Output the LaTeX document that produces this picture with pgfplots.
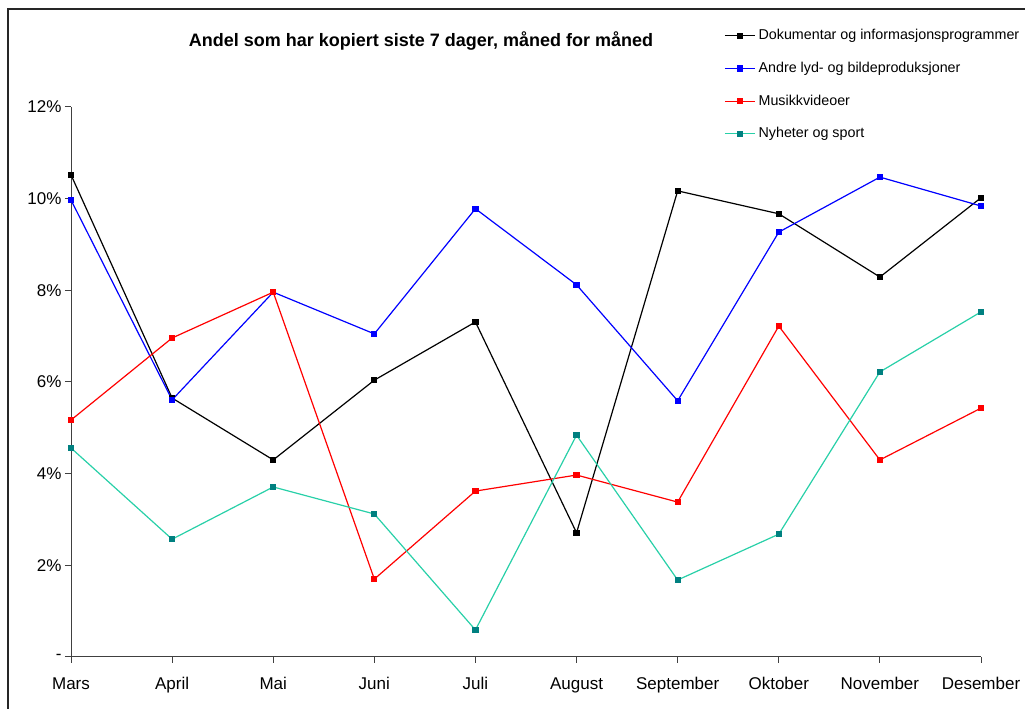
\documentclass[border=0pt]{standalone}
\usepackage{pgfplots}
\pgfplotsset{compat=1.18}
\usepackage{fontspec}
\setmainfont{Liberation Sans}
\definecolor{tealline}{RGB}{40,208,168}
\definecolor{tealmark}{RGB}{0,128,128}
\begin{document}
\begin{tikzpicture}[x=1pt,y=1pt]
\useasboundingbox (0,0) rectangle (1025,709);
\draw[line width=2pt,black!85] (8,0) -- (8,700) -- (1025,700);
\node[font=\fontsize{18}{20}\selectfont\bfseries] at (421,668) {Andel som har kopiert siste 7 dager, måned for måned};
\begin{axis}[
  at={(71pt,52pt)}, anchor=south west,
  scale only axis, width=910pt, height=550pt,
  xmin=0, xmax=9, ymin=0, ymax=12,
  axis x line=bottom, axis y line=left,
  axis line style={-, line width=1pt, black!75},
  xtick={0,...,9},
  xticklabels={Mars,April,Mai,Juni,Juli,August,September,Oktober,November,Desember},
  ytick={0,2,4,6,8,10,12},
  yticklabels={-,2\%,4\%,6\%,8\%,10\%,12\%},
  tick style={black!75, line width=1pt},
  major tick length=6pt,
  tick align=outside,
  ticklabel style={font=\fontsize{17}{20}\selectfont},
  xticklabel style={yshift=-11pt},
  clip=false,
  every axis plot/.append style={line width=1.2pt, mark=square*, mark size=2.5pt},
  legend style={at={(0.7145,1.148)}, anchor=north west, draw=none, fill=none,
    font=\fontsize{14.3}{16}\selectfont, row sep=16.7pt,
    nodes={inner sep=1pt, text height=11pt, text depth=3pt}},
  legend cell align=left,
  legend image code/.code={\draw[#1, mark repeat=2, mark phase=2] plot coordinates {(0pt,0pt) (15pt,0pt) (30pt,0pt)}; \path (32pt,0pt);},
]
\addplot[color=black, mark options={fill=black}] coordinates {
(0,10.52) (1,5.65) (2,4.30) (3,6.04) (4,7.31) (5,2.71) (6,10.17) (7,9.67) (8,8.29) (9,10.02)};
\addlegendentry{Dokumentar og informasjonsprogrammer}
\addplot[color=blue, mark options={fill=blue}] coordinates {
(0,9.97) (1,5.61) (2,7.96) (3,7.05) (4,9.78) (5,8.12) (6,5.59) (7,9.27) (8,10.47) (9,9.84)};
\addlegendentry{Andre lyd- og bildeproduksjoner}
\addplot[color=red, mark options={fill=red}] coordinates {
(0,5.17) (1,6.96) (2,7.96) (3,1.70) (4,3.62) (5,3.97) (6,3.38) (7,7.22) (8,4.30) (9,5.43)};
\addlegendentry{Musikkvideoer}
\addplot[color=tealline, mark options={draw=tealmark, fill=tealmark}] coordinates {
(0,4.56) (1,2.57) (2,3.71) (3,3.12) (4,0.59) (5,4.84) (6,1.68) (7,2.68) (8,6.22) (9,7.53)};
\addlegendentry{Nyheter og sport}
\end{axis}
\end{tikzpicture}
\end{document}
